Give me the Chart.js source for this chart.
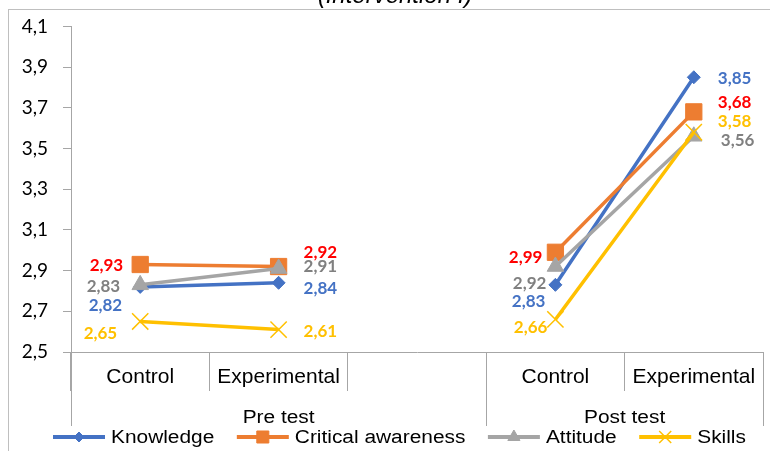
<!DOCTYPE html>
<html>
<head>
<meta charset="utf-8">
<script src="https://cdn.jsdelivr.net/npm/chart.js@4/dist/chart.umd.min.js"></script>
<style>
  html, body { margin: 0; padding: 0; background: #fff; }
  #wrap { width: 770px; height: 451px; position: relative; }
</style>
</head>
<body>
<div id="wrap"><canvas id="c" width="770" height="451"></canvas></div>
<script>
// ---- data ----
const categories = ['Control', 'Experimental', '', 'Control', 'Experimental'];
const groupLabels = ['Pre test', 'Post test'];
const groupRanges = [[0, 2], [3, 4]];           // category index span of each group
const seriesNames = ['Knowledge', 'Critical awareness', 'Attitude', 'Skills'];
const knowledge         = [2.82, 2.84, null, 2.83, 3.85];
const criticalAwareness = [2.93, 2.92, null, 2.99, 3.68];
const attitude          = [2.83, 2.91, null, 2.92, 3.56];
const skills            = [2.65, 2.61, null, 2.66, 3.58];
const yTicks = [2.5, 2.7, 2.9, 3.1, 3.3, 3.5, 3.7, 3.9, 4.1];
const chartTitle = '(Intervention I)';

// ---- look ----
const AXIS = '#A6A6A6';
const lineColors  = ['#4472C4', '#ED7D31', '#A5A5A5', '#FFC000'];
const labelColors = ['#4472C4', '#FF0000', '#808080', '#FFC000'];
const markers = [
  { style: 'rectRot',  radius: 6.5,  legendRadius: 5,   border: 1 },
  { style: 'rect',     radius: 11.5, legendRadius: 8.5, border: 1 },
  { style: 'triangle', radius: 9.5,  legendRadius: 7,   border: 1 },
  { style: 'crossRot', radius: 11.5, legendRadius: 8.5, border: 1.5 }
];
// value-label placement next to each point: [dx, dy] from the point, side by sign of dx
const labelShift = [
  [[-18, 19], [25, 6],   null, [-10, 17], [24, 1]],
  [[-17, 1],  [25, -14], null, [-13, 5],  [24, -9]],
  [[-20, 2],  [25, -2],  null, [-9, 17],  [27, 4]],
  [[-23, 12], [25, 2],   null, [-8, 8],   [24, -11]]
];

const fmt = v => v.toFixed(2).replace('.', ',');
const values = [knowledge, criticalAwareness, attitude, skills];

const datasets = values.map((vals, i) => ({
  label: seriesNames[i],
  data: vals,
  borderColor: lineColors[i],
  backgroundColor: lineColors[i],
  borderWidth: 3.5,
  pointStyle: markers[i].style,
  pointRadius: markers[i].radius,
  pointBorderWidth: markers[i].border,
  pointBackgroundColor: lineColors[i],
  pointBorderColor: lineColors[i],
  tension: 0,
  spanGaps: false,
  clip: false,
  order: values.length - i
}));

// text drawn a little wider than the font's own proportions
const WIDE = 1.16;
const SMALL_FONT = '18px "Liberation Sans", Arial, sans-serif';
function wideText(ctx, text, x, y, align) {
  const w = ctx.measureText(text).width * WIDE;
  const left = align === 'center' ? x - w / 2 : x;
  ctx.save();
  ctx.translate(left, y);
  ctx.scale(WIDE, 1);
  ctx.textAlign = 'left';
  ctx.fillText(text, 0, 0);
  ctx.restore();
  return w;
}

const decorations = {
  id: 'decorations',
  beforeDraw(chart) {
    const { ctx } = chart;
    ctx.save();
    ctx.fillStyle = '#fff';
    ctx.fillRect(0, 0, chart.width, chart.height);
    ctx.strokeStyle = '#BFBFBF';
    ctx.lineWidth = 1;
    ctx.strokeRect(8.5, 9.5, 775, 460);
    ctx.fillStyle = '#000';
    ctx.font = 'italic 24px "Liberation Sans", Arial, sans-serif';
    ctx.textAlign = 'center';
    ctx.textBaseline = 'alphabetic';
    ctx.fillText(chartTitle, 395, 3);
    ctx.restore();
  },
  afterDraw(chart) {
    const { ctx } = chart;
    const x = chart.scales.x;
    const area = chart.chartArea;
    const step = x.getPixelForValue(1) - x.getPixelForValue(0);
    const edgeL = i => x.getPixelForValue(i) - step / 2;
    const edgeR = i => x.getPixelForValue(i) + step / 2;

    ctx.save();
    // group dividers and group labels
    ctx.strokeStyle = AXIS;
    ctx.lineWidth = 1;
    const edges = new Set();
    groupRanges.forEach(([a, b]) => { edges.add(Math.round(edgeL(a))); edges.add(Math.round(edgeR(b))); });
    edges.forEach(px => {
      ctx.beginPath();
      ctx.moveTo(px + 0.5, area.bottom);
      ctx.lineTo(px + 0.5, 426);
      ctx.stroke();
    });
    ctx.fillStyle = '#000';
    ctx.font = SMALL_FONT;
    ctx.textBaseline = 'alphabetic';
    groupRanges.forEach(([a, b], g) => {
      wideText(ctx, groupLabels[g], (edgeL(a) + edgeR(b)) / 2, 423, 'center');
    });

    // value labels
    ctx.font = 'bold 17px Lato, "Open Sans", sans-serif';
    ctx.textBaseline = 'middle';
    chart.data.datasets.forEach((ds, d) => {
      const meta = chart.getDatasetMeta(d);
      ds.data.forEach((v, i) => {
        if (v === null || !labelShift[d][i]) return;
        const pt = meta.data[i];
        const [dx, dy] = labelShift[d][i];
        ctx.fillStyle = labelColors[d];
        ctx.textAlign = dx < 0 ? 'right' : 'left';
        ctx.fillText(fmt(v), pt.x + dx, pt.y + dy);
      });
    });

    // legend: line with marker, then name
    const ly = 437;
    let lx = 53;
    const iconW = 52, gap = 6, itemGap = 22.5;
    ctx.font = SMALL_FONT;
    ctx.textBaseline = 'alphabetic';
    seriesNames.forEach((name, i) => {
      ctx.strokeStyle = lineColors[i];
      ctx.lineWidth = 4;
      ctx.beginPath();
      ctx.moveTo(lx, ly);
      ctx.lineTo(lx + iconW, ly);
      ctx.stroke();
      ctx.fillStyle = lineColors[i];
      ctx.lineWidth = markers[i].border;
      Chart.helpers.drawPoint(ctx, {
        pointStyle: markers[i].style,
        radius: markers[i].legendRadius,
        rotation: 0,
        borderWidth: markers[i].border
      }, lx + iconW / 2, ly);
      ctx.fillStyle = '#000';
      const w = wideText(ctx, name, lx + iconW + gap, 443, 'left');
      lx += iconW + gap + w + itemGap;
    });
    ctx.restore();
  }
};

new Chart(document.getElementById('c'), {
  type: 'line',
  data: { labels: categories, datasets },
  options: {
    responsive: false,
    animation: false,
    layout: { autoPadding: false, padding: { left: 0, right: 7, top: 25, bottom: 0 } },
    plugins: { legend: { display: false }, tooltip: { enabled: false } },
    scales: {
      x: {
        type: 'category',
        offset: true,
        grid: { offset: true, drawOnChartArea: false, drawTicks: true, tickLength: 39, color: AXIS, lineWidth: 1 },
        border: { color: AXIS, width: 1 },
        ticks: {
          color: '#000',
          font: { family: '"Liberation Sans", Arial, sans-serif', size: 21 },
          padding: -26,
          maxRotation: 0,
          minRotation: 0,
          autoSkip: false
        },
        afterFit(s) {
          s.height = 99;
          s.paddingLeft = 0;
          s.paddingRight = 0;
        }
      },
      y: {
        min: 2.5,
        max: 4.1,
        afterBuildTicks(s) { s.ticks = yTicks.map(v => ({ value: v })); },
        grid: { drawOnChartArea: false, drawTicks: true, tickLength: 8, color: AXIS, lineWidth: 1 },
        border: { color: AXIS, width: 1 },
        ticks: {
          color: '#000',
          font: { family: 'Lato, "Open Sans", sans-serif', size: 19 },
          padding: 15,
          callback: v => Number(v).toFixed(1).replace('.', ',')
        },
        afterFit(s) { s.width = 71; }
      }
    }
  },
  plugins: [decorations]
});
</script>
</body>
</html>
